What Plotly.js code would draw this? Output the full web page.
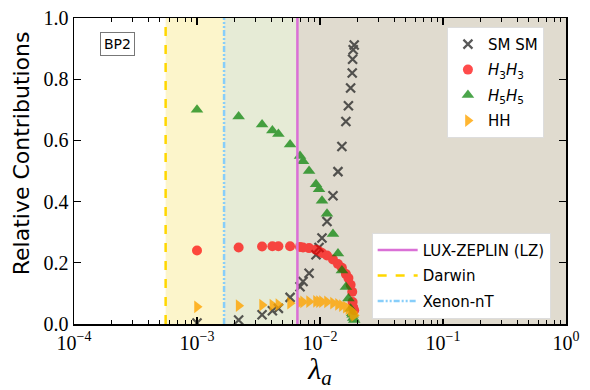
<!DOCTYPE html>
<html>
<head>
<meta charset="utf-8">
<script src="https://cdn.plot.ly/plotly-3.0.1.min.js"></script>
<style>
  body { margin: 0; background: #fff; }
  #chart { width: 590px; height: 390px; }
</style>
</head>
<body>
<div id="chart"></div>
<script>
// lambda_a scan points (BP2)
const lambdaVals = [1.00e-3, 2.18e-3, 3.38e-3, 4.10e-3, 4.59e-3, 5.71e-3,
    6.88e-3, 7.28e-3, 8.15e-3, 9.28e-3, 9.82e-3, 1.038e-2, 1.140e-2, 1.275e-2,
    1.400e-2, 1.507e-2, 1.624e-2, 1.702e-2, 1.774e-2, 1.828e-2, 1.841e-2, 1.862e-2, 1.897e-2];

// relative contributions per channel
const smsm = [0.003, 0.013, 0.030, 0.043, 0.051, 0.087,
    0.122, 0.139, 0.166, 0.226, 0.250, 0.281, 0.335, 0.419,
    0.498, 0.580, 0.662, 0.713, 0.771, 0.820, 0.865, 0.896, 0.912];
const h3h3 = [0.240, 0.250, 0.253, 0.254, 0.254, 0.254,
    0.252, 0.250, 0.248, 0.243, 0.238, 0.232, 0.224, 0.211,
    0.196, 0.184, 0.163, 0.150, 0.128, 0.105, 0.072, 0.055, 0.045];
const h5h5 = [0.700, 0.678, 0.652, 0.632, 0.621, 0.587,
    0.549, 0.532, 0.500, 0.457, 0.440, 0.403, 0.360, 0.294,
    0.230, 0.175, 0.121, 0.083, 0.050, 0.035, 0.030, 0.020, 0.013];
const hh = [0.056, 0.060, 0.062, 0.062, 0.063, 0.068,
    0.071, 0.072, 0.073, 0.074, 0.073, 0.073, 0.072, 0.068,
    0.064, 0.060, 0.055, 0.050, 0.045, 0.040, 0.037, 0.032, 0.028];

// direct detection limits on lambda_a
const limitNames = ['LUX-ZEPLIN (LZ)', 'Darwin', 'Xenon-nT'];
const limitVals = [6.55e-3, 5.56e-4, 1.66e-3];

const xTickVals = [1e-4, 1e-3, 1e-2, 1e-1, 1];
const xTickText = ['10<sup>−4</sup>', '10<sup>−3</sup>', '10<sup>−2</sup>', '10<sup>−1</sup>', '10<sup>0</sup>'];
const yTickVals = [0, 0.2, 0.4, 0.6, 0.8, 1.0];
const yTickText = ['0.0', '0.2', '0.4', '0.6', '0.8', '1.0'];

// minor ticks 2..9 in each decade
const xMinor = [];
xTickVals.slice(0, -1).forEach(d => { for (let k = 2; k <= 9; k++) xMinor.push(k * d); });

const serif = 'Liberation Serif, DejaVu Serif, serif';
const sans = 'DejaVu Sans, sans-serif';

const channels = [
    { name: 'SM SM', y: smsm, symbol: 'x-thin-open', color: '#222', size: 9, op: 0.75 },
    { name: '<i>H</i><sub>3</sub><i>H</i><sub>3</sub>', y: h3h3, symbol: 'circle', color: 'red', size: 10, op: 0.7 },
    { name: '<i>H</i><sub>5</sub><i>H</i><sub>5</sub>', y: h5h5, symbol: 'triangle-up', color: 'green', size: 11, op: 0.7 },
    { name: 'HH', y: hh, symbol: 'triangle-right', color: 'orange', size: 11, op: 0.8 }
];

const traces = channels.map((c, i) => ({
    x: lambdaVals,
    y: c.y,
    type: 'scatter',
    mode: 'markers',
    name: c.name,
    opacity: c.op,
    legendgroup: 'ch' + i,
    marker: {
        symbol: c.symbol, size: c.size, color: c.color,
        line: { width: c.symbol === 'x-thin-open' ? 2.2 : 0, color: c.color }
    },
    legend: 'legend'
}));

// limit lines -> second legend
const lineStyles = [
    { color: 'orchid', dash: 'solid' },
    { color: 'gold', dash: 'dash' },
    { color: 'lightskyblue', dash: '6px,2px,2px,2px,2px,2px' }
];
limitNames.forEach((n, i) => {
    traces.push({
        x: [limitVals[i], limitVals[i]],
        y: [0, 1],
        type: 'scatter',
        mode: 'lines',
        name: n,
        legendgroup: 'lim' + i,
        line: { color: lineStyles[i].color, width: 2.5, dash: lineStyles[i].dash },
        legend: 'legend2'
    });
});

// shaded excluded regions (from each limit to 1)
const shadeColors = ['#fcf5cb', '#e6ebd6', '#e0dbcf'];
const bounds = [limitVals[1], limitVals[2], limitVals[0], 1];
const shapes = shadeColors.map((c, i) => ({
    type: 'rect', xref: 'x', yref: 'paper',
    x0: bounds[i], x1: bounds[i + 1], y0: 0, y1: 1,
    fillcolor: c, line: { width: 0 }, layer: 'below'
}));

const axisCommon = {
    showline: true, linecolor: 'black', linewidth: 1.5, mirror: 'allticks',
    ticks: 'inside', ticklen: 7, tickwidth: 1.2, tickcolor: 'black',
    showgrid: false, zeroline: false,
    tickfont: { family: serif, size: 20, color: 'black' }
};

const layout = {
    width: 590, height: 390,
    margin: { l: 74, r: 24, t: 18, b: 66 },
    paper_bgcolor: 'white', plot_bgcolor: 'white',
    showlegend: true,
    xaxis: Object.assign({}, axisCommon, {
        type: 'log', range: [-4, 0],
        tickmode: 'array', tickvals: xTickVals, ticktext: xTickText,
        minor: { tickmode: 'array', tickvals: xMinor, ticks: 'inside', ticklen: 4, tickwidth: 1, tickcolor: 'black', showgrid: false },
        title: { text: '<i>λ</i><sub><i>a</i></sub>', font: { family: serif, size: 30, color: 'black' }, standoff: 4 }
    }),
    yaxis: Object.assign({}, axisCommon, {
        range: [0, 1],
        tickmode: 'array', tickvals: yTickVals, ticktext: yTickText
    }),
    legend: {
        x: 0.758, y: 0.971, xanchor: 'left', yanchor: 'top',
        bgcolor: 'white', bordercolor: '#ddd', borderwidth: 1,
        font: { family: sans, size: 15, color: 'black' },
        tracegroupgap: 3,
        itemwidth: 30
    },
    legend2: {
        x: 0.605, y: 0.298, xanchor: 'left', yanchor: 'top',
        bgcolor: 'white', bordercolor: '#ddd', borderwidth: 1,
        font: { family: sans, size: 15, color: 'black' },
        tracegroupgap: 3,
        itemwidth: 40
    },
    shapes: shapes,
    annotations: [{
        text: 'BP2', xref: 'paper', yref: 'paper', x: 0.088, y: 0.914,
        xanchor: 'center', yanchor: 'middle',
        showarrow: false, font: { family: sans, size: 14, color: 'black' },
        bordercolor: '#777', borderwidth: 1, borderpad: 3, bgcolor: 'white'
    }, {
        // y axis label, placed like the original
        text: 'Relative Contributions', xref: 'paper', yref: 'paper',
        x: -0.105, y: 0.559, xanchor: 'center', yanchor: 'middle',
        textangle: -90, showarrow: false,
        font: { family: sans, size: 22, color: 'black' }
    }]
};

Plotly.newPlot('chart', traces, layout, { staticPlot: true, displayModeBar: false });
</script>
</body>
</html>
